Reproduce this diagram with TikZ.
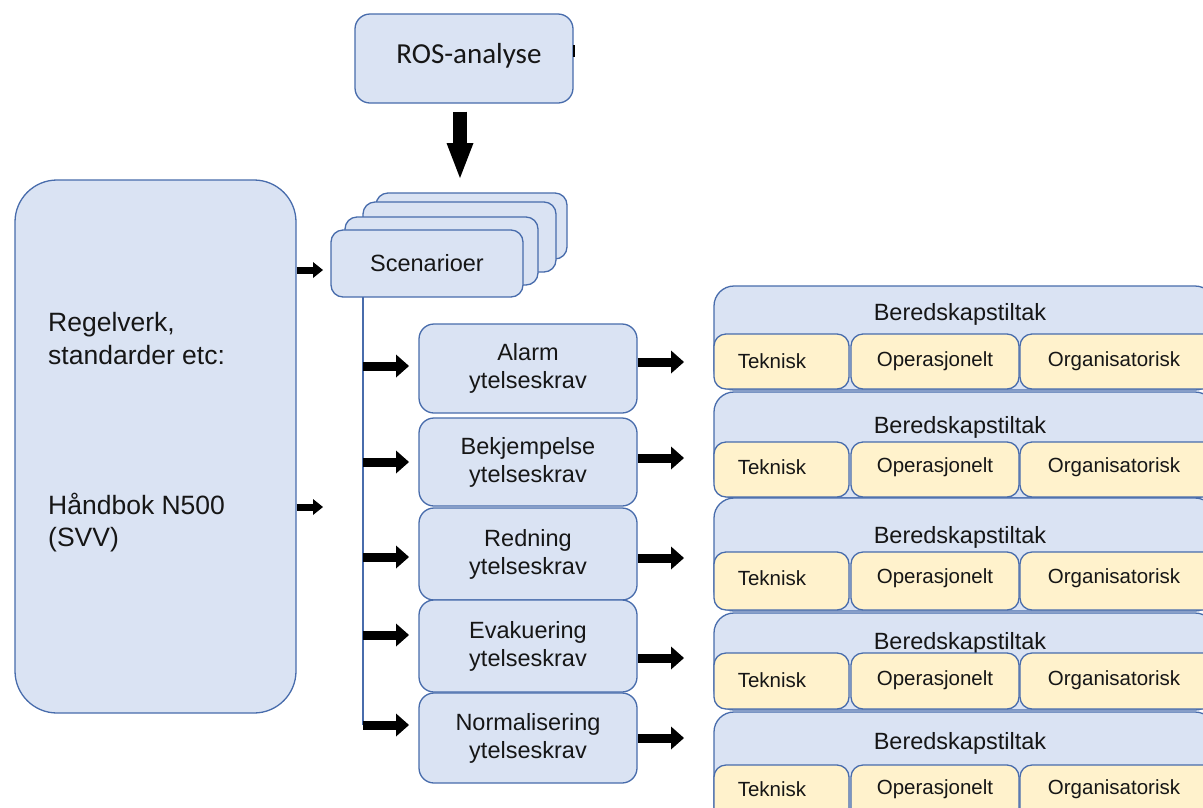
\documentclass[tikz,border=0pt]{standalone}
\usepackage{fontspec}
\setmainfont{Liberation Sans}
\newfontfamily\calib{Carlito}
\usetikzlibrary{arrows.meta,calc}
\definecolor{bfill}{RGB}{218,227,243}
\definecolor{bdraw}{RGB}{72,108,172}
\definecolor{yfill}{RGB}{255,242,204}
\definecolor{txt}{RGB}{22,22,22}
\tikzset{
  bx/.style={draw=bdraw,fill=bfill,line width=1.3pt,inner sep=0pt,text=txt},
  yb/.style={draw=bdraw,fill=yfill,line width=1.3pt,inner sep=0pt,rounded corners=12pt},
  lbl/.style={inner sep=0pt,text=txt},
  midarr/.style={line width=9pt,-{Triangle[length=13pt 0 0,width=23pt 0 0,line width=0pt 0 0]}},
  smallarr/.style={line width=7pt,-{Triangle[length=10pt 0 0,width=16pt 0 0,line width=0pt 0 0]}},
  bigarr/.style={line width=14pt,-{Triangle[length=35pt 0 0,width=27pt 0 0,line width=0pt 0 0]}},
}
\newcommand\mypanel[7]{%
  \node[bx,rounded corners=20pt,minimum width=501pt,minimum height=#3pt] (p#1) at (964.5,#2) {};
  \node[lbl,font=\fontsize{23.5}{27}\selectfont] (h#1) at (960,#4) {Beredskapstiltak};
  \node[yb,minimum width=135pt,minimum height=#6pt] (te#1) at (781.5,#5) {};
  \node[yb,minimum width=168pt,minimum height=#6pt] (op#1) at (935,#5) {};
  \node[yb,minimum width=195pt,minimum height=#6pt] (or#1) at (1117.5,#5) {};
  \node[lbl,font=\fontsize{20.5}{24}\selectfont] (tt#1) at (772,#7) {Teknisk};
  \node[lbl,font=\fontsize{20.5}{24}\selectfont] (to#1) at (935,#7) {Operasjonelt};
  \node[lbl,font=\fontsize{20.5}{24}\selectfont] (tr#1) at (1114,#7) {Organisatorisk};
}
\begin{document}
\begin{tikzpicture}[x=1pt,y=-1pt]
\useasboundingbox (0,0) rectangle (1203,807);
\clip (0,0) rectangle (1203,807);
\fill[white] (0,0) rectangle (1203,807);

% ROS-analyse
\node[bx,rounded corners=15pt,minimum width=218pt,minimum height=89pt] (ros) at (464,58.5) {};
\node[lbl,font=\calib\fontsize{29}{33}\selectfont] (rost) at (469,56) {ROS-analyse};
\draw[black,line width=2pt] (ros.east |- 0,45) -- (ros.east |- 0,57);
\coordinate (rosend) at (460,178);
\draw[bigarr] ($(ros.south -| rosend)+(0,8)$) -- (rosend);

% left box
\node[bx,rounded corners=42pt,minimum width=281pt,minimum height=533pt] (left) at (155.5,446.5) {};
\node[lbl,anchor=west,align=left,font=\fontsize{26.5}{33}\selectfont] (lt1) at (48,338.5) {Regelverk,\\standarder etc:};
\node[lbl,anchor=west,align=left,font=\fontsize{26.5}{32}\selectfont] (lt2) at (48,523) {Håndbok N500\\(SVV)};
\coordinate (la1) at (323,270);
\coordinate (la2) at (323,507);
\draw[smallarr] (la1 -| left.east) -- (la1);
\draw[smallarr] (la2 -| left.east) -- (la2);

% Scenarioer stack
\node[bx,rounded corners=12pt,minimum width=191pt,minimum height=66pt] (s4) at (471.5,226) {};
\node[bx,rounded corners=12pt,minimum width=193pt,minimum height=70pt] (s3) at (459.5,237) {};
\node[bx,rounded corners=12pt,minimum width=193pt,minimum height=68pt] (s2) at (441.5,251) {};
\node[bx,rounded corners=12pt,minimum width=192pt,minimum height=67pt,font=\fontsize{23.5}{27}\selectfont] (s1) at (427,263.5) {Scenarioer};

% vertical line
\coordinate (v0) at (363,297);
\coordinate (v5) at (363,725);
\draw[bdraw,line width=1.3pt] (v0) -- (v5);

% middle boxes
\tikzset{mb/.style={bx,rounded corners=15pt,minimum width=218pt,align=center,font=\fontsize{23.5}{28}\selectfont}}
\node[mb,minimum height=89pt] (m1) at (528,368.5) {Alarm\\ytelseskrav};
\node[mb,minimum height=88pt] (m2) at (528,462) {Bekjempelse\\ytelseskrav};
\node[mb,minimum height=92pt] (m3) at (528,554) {Redning\\ytelseskrav};
\node[mb,minimum height=92pt] (m4) at (528,646) {Evakuering\\ytelseskrav};
\node[mb,minimum height=90pt] (m5) at (528,738) {Normalisering\\ytelseskrav};

% arrows from line to boxes
\foreach \i/\y in {1/366,2/462,3/557,4/635,5/725}{
  \coordinate (a\i) at (409,\y);
  \draw[midarr] (a\i -| v0) -- (a\i);
}
% arrows from boxes to panels
\foreach \i/\y in {1/362,2/458,3/558,4/658,5/738}{
  \coordinate (b\i) at (684,\y);
  \draw[midarr] (b\i -| m\i.east) -- (b\i);
}

% panels
\mypanel{1}{338}{104}{314}{361.5}{55}{361}
\mypanel{2}{445}{106}{427}{469.5}{55}{467}
\mypanel{3}{554.5}{113}{537}{581}{58}{578}
\mypanel{4}{661.5}{97}{643}{681}{56}{680}
\mypanel{5}{776}{128}{743}{802.5}{75}{789}
\end{tikzpicture}
\end{document}
